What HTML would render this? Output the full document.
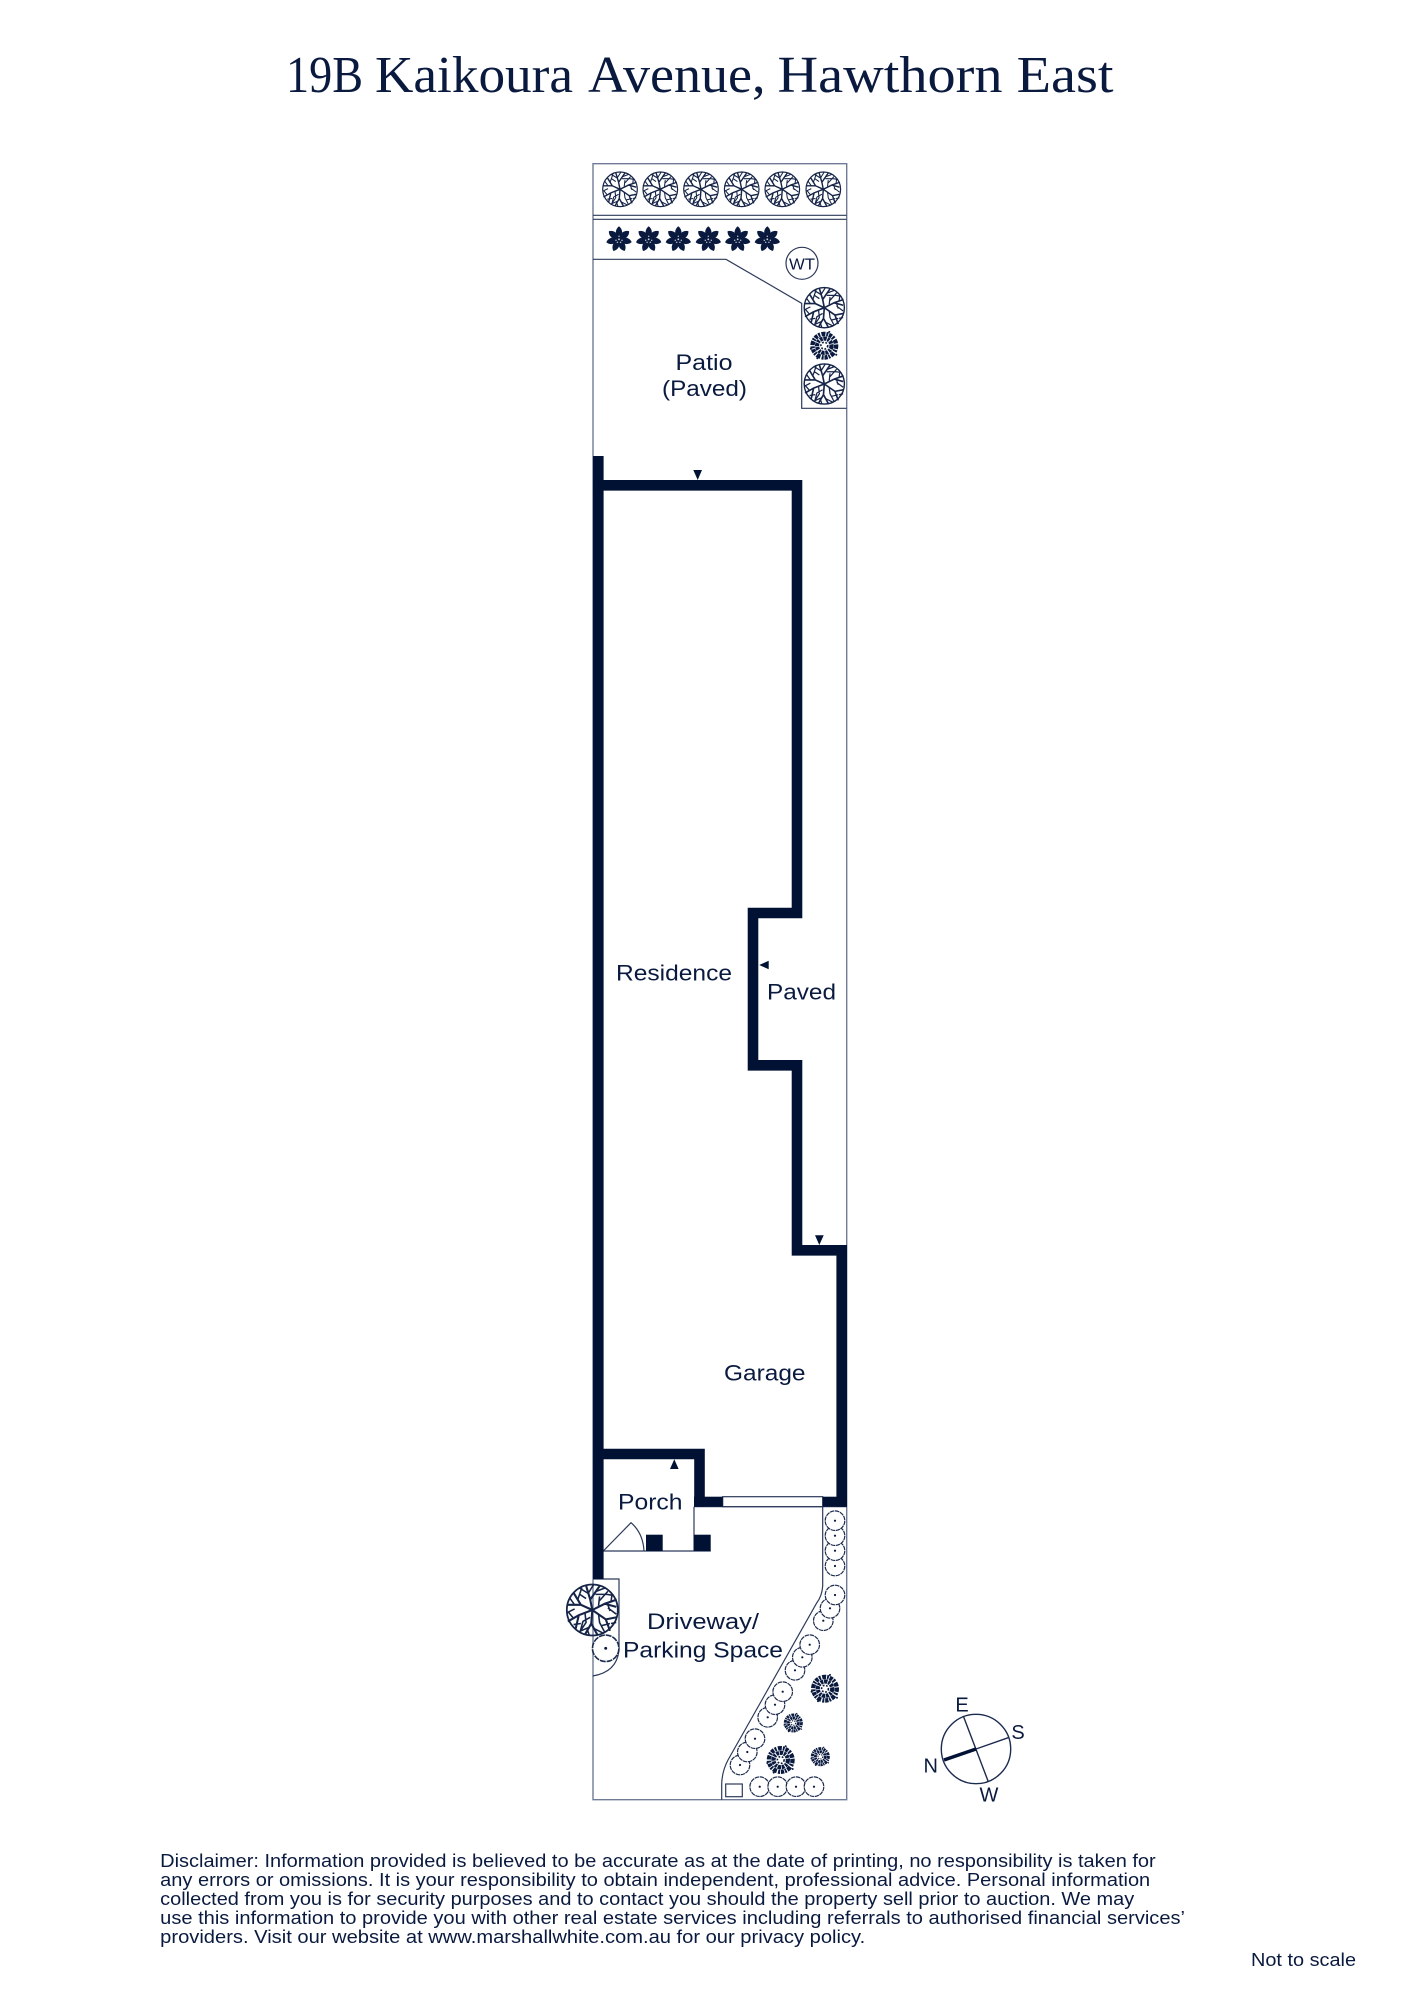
<!DOCTYPE html>
<html><head><meta charset="utf-8"><title>19B Kaikoura Avenue, Hawthorn East</title>
<style>html,body{margin:0;padding:0;background:#fff;width:1414px;height:2000px;overflow:hidden}svg{display:block}
text{font-family:"Liberation Sans",sans-serif;fill:#0a1a3f}</style></head><body>
<svg width="1414" height="2000" viewBox="0 0 1414 2000" xmlns="http://www.w3.org/2000/svg">
<defs>
<g id="tree" fill="none" stroke="#152447">
<circle r="49" stroke-width="3.4"/>
<g stroke-width="4"><path d="M0 0L-4 -20L-12 -47M-4 -20L14 -46M0 0L24 -12L47 -20M24 -12L46 -6M0 0L26 18L34 40M26 18L47 14M0 0L-2 26L-14 47M-2 26L10 48M0 0L-26 10L-47 22M-26 10L-32 36M0 0L-22 -10L-48 -10M-22 -10L-36 -33"/></g>
<g stroke-width="3"><path d="M-8 -32L-26 -43M-8 -32L2 -48M8 -36L26 -43M6 -30L28 -30L41 -28M36 -16L38 -30M14 -18L30 -36M30 -4L46 8M34 2L30 -10M12 8L14 24L24 43M36 26L46 24M18 30L34 26M-8 34L-26 42M-10 36L-6 48M4 36L22 45M-4 14L-18 22L-24 44M-36 16L-46 4M-14 6L-12 24L-24 42M-36 28L-22 26M-34 -10L-44 -24M-28 -20L-20 -43M-34 -2L-48 5M-12 -22L-24 -30M12 -8L14 -26"/></g>
</g>
<g id="flower" fill="#0a1a3f">
<path d="M0 -13C4 -10 3.8 -5 1.6 -2H-1.6C-3.8 -5 -4 -10 0 -13Z"/>
<path d="M0 -13C4 -10 3.8 -5 1.6 -2H-1.6C-3.8 -5 -4 -10 0 -13Z" transform="rotate(51.4)"/>
<path d="M0 -13C4 -10 3.8 -5 1.6 -2H-1.6C-3.8 -5 -4 -10 0 -13Z" transform="rotate(102.8)"/>
<path d="M0 -13C4 -10 3.8 -5 1.6 -2H-1.6C-3.8 -5 -4 -10 0 -13Z" transform="rotate(154.2)"/>
<path d="M0 -13C4 -10 3.8 -5 1.6 -2H-1.6C-3.8 -5 -4 -10 0 -13Z" transform="rotate(205.7)"/>
<path d="M0 -13C4 -10 3.8 -5 1.6 -2H-1.6C-3.8 -5 -4 -10 0 -13Z" transform="rotate(257.1)"/>
<path d="M0 -13C4 -10 3.8 -5 1.6 -2H-1.6C-3.8 -5 -4 -10 0 -13Z" transform="rotate(308.6)"/>
<circle r="5"/>
<g fill="#fff" opacity=".8"><circle r=".9"/><circle cx="3" cy="1" r=".7"/><circle cx="-3" cy="1" r=".7"/><circle cx="0" cy="-3" r=".7"/><circle cx="1.6" cy="3" r=".7"/><circle cx="-1.6" cy="3" r=".7"/></g>
</g>
<g id="shrub" fill="none" stroke="#0a1a3f">
<circle r="11.8" stroke-width="4.4" stroke-dasharray="3.2 .9 2 1.3 4 1 1.8 .8"/>
<circle r="7.2" stroke-width="4.2" stroke-dasharray="3.4 .8 2.2 1 2.8 .7"/>
<circle r="3.4" stroke-width="1.6" stroke-dasharray="1.8 1.6"/>
<g fill="#0a1a3f" stroke="none"><circle cx="-13.4" cy="3" r="1"/><circle cx="12" cy="9" r="1"/><circle cx="5" cy="-13.8" r="1"/><circle cx="-7" cy="12.6" r="1"/></g>
</g>
<g id="bush"><circle r="9.8" fill="#fff" stroke="#1c2b4e" stroke-width="1.2" stroke-dasharray="4.4 .7"/><circle r="1.1" fill="#0a1a3f"/></g>
</defs>

<g font-size="52">
<text x="286" y="92" textLength="77" lengthAdjust="spacingAndGlyphs" style="font-family:'Liberation Serif',serif">19B</text>
<text x="375" y="92" textLength="198" lengthAdjust="spacingAndGlyphs" style="font-family:'Liberation Serif',serif">Kaikoura</text>
<text x="588" y="92" textLength="177.5" lengthAdjust="spacingAndGlyphs" style="font-family:'Liberation Serif',serif">Avenue,</text>
<text x="777.5" y="92" textLength="336" lengthAdjust="spacingAndGlyphs" style="font-family:'Liberation Serif',serif">Hawthorn East</text>
</g>

<!-- lot boundary -->
<path d="M593 163.7H846.7V1799.7H593Z" fill="none" stroke="#6f7b96" stroke-width="1.4"/>
<g fill="none" stroke="#2c3a5a" stroke-width="1.2">
<path d="M593 215.3H846.7M593 219.3H846.7"/>
<path d="M593 259.3H726L801.7 303.3V408.3H846.7"/>
<circle cx="802" cy="263.3" r="16"/>
<!-- porch -->
<path d="M694 1506.7V1551M603 1551H710.7"/>
<path d="M603.3 1551L631 1522.7Q643 1533 644 1551"/>
<path d="M694 1506.7H846.7"/>
<!-- window -->
<rect x="722.7" y="1496.7" width="100" height="10"/>
<!-- garden right -->
<path d="M822.7 1506.7V1586Q822 1596 816.7 1603L728 1760Q721.7 1772 721.7 1785V1799.7"/>
<rect x="725.7" y="1784" width="16.6" height="12.7"/>
<!-- small bed -->
<path d="M593 1579H619V1650Q617 1672 592.7 1676"/>
</g>
<text x="802" y="269.5" font-size="16" text-anchor="middle" textLength="26" lengthAdjust="spacingAndGlyphs">WT</text>

<!-- walls -->
<g fill="none" stroke="#011133" stroke-width="10.6" stroke-linejoin="miter">
<path d="M598.3 456V1579"/>
<path d="M598.3 485.3H797V913H753V1065.3H797V1250.3H841.7V1506.7"/>
<path d="M598.3 1454H699.5V1506.7"/>
</g>
<g fill="#011133">
<rect x="694" y="1496.7" width="28.7" height="10"/>
<rect x="822.7" y="1496.7" width="24" height="10"/>
<rect x="646" y="1534.7" width="16.7" height="16.3"/>
<rect x="694" y="1534.7" width="16.7" height="16.3"/>
<!-- door arrows -->
<path d="M693.3 470H702L697.7 480Z"/>
<path d="M768.7 960.7V969.3L759.3 965Z"/>
<path d="M815 1235.3H823.7L819.3 1245Z"/>
<path d="M674.3 1459.3L678.6 1469H670Z"/>
</g>

<!-- trees top -->
<g transform="translate(620 189.3) scale(.353)"><use href="#tree"/></g>
<g transform="translate(660.3 189.3) scale(.353)"><use href="#tree"/></g>
<g transform="translate(701 189.3) scale(.353)"><use href="#tree"/></g>
<g transform="translate(741.7 189.3) scale(.353)"><use href="#tree"/></g>
<g transform="translate(782.3 189.3) scale(.353)"><use href="#tree"/></g>
<g transform="translate(823.3 189.3) scale(.353)"><use href="#tree"/></g>
<g transform="translate(824.3 307.7) scale(.41)"><use href="#tree"/></g>
<g transform="translate(824.3 384) scale(.41)"><use href="#tree"/></g>
<g transform="translate(592.3 1610) scale(.52)"><use href="#tree"/></g>

<!-- flowers -->
<use href="#flower" x="619" y="239.3"/><use href="#flower" x="648.7" y="239.3"/><use href="#flower" x="678.3" y="239.3"/><use href="#flower" x="708.3" y="239.3"/><use href="#flower" x="737.7" y="239.3"/><use href="#flower" x="767.3" y="239.3"/>

<!-- shrubs -->
<use href="#shrub" transform="translate(824.3 345.7)"/>
<use href="#shrub" transform="translate(825 1688.7)"/>
<use href="#shrub" transform="translate(793.3 1723) scale(.68)"/>
<use href="#shrub" transform="translate(780.7 1760)"/>
<use href="#shrub" transform="translate(820.3 1756.7) scale(.68)"/>

<!-- bushes -->
<use href="#bush" x="835" y="1566"/><use href="#bush" x="835" y="1550.7"/><use href="#bush" x="835" y="1535.7"/><use href="#bush" x="835" y="1520.7"/>
<use href="#bush" x="823.3" y="1620.7"/><use href="#bush" x="830" y="1608.3"/><use href="#bush" x="835" y="1595"/>
<use href="#bush" x="795" y="1670.3"/><use href="#bush" x="802.3" y="1657.3"/><use href="#bush" x="809.7" y="1644.7"/>
<use href="#bush" x="767.7" y="1717.3"/><use href="#bush" x="775" y="1704.7"/><use href="#bush" x="782.7" y="1691.7"/>
<use href="#bush" x="740" y="1765"/><use href="#bush" x="747.3" y="1752"/><use href="#bush" x="755" y="1738.7"/>
<use href="#bush" x="759.7" y="1786.7"/><use href="#bush" x="777.7" y="1786.7"/><use href="#bush" x="796" y="1786.7"/><use href="#bush" x="814" y="1786.7"/>
<g transform="translate(605.7 1648.3) scale(1.35)"><use href="#bush"/></g>

<!-- labels -->
<g font-size="22">
<text x="675.5" y="370" textLength="57" lengthAdjust="spacingAndGlyphs">Patio</text>
<text x="662" y="396" textLength="85" lengthAdjust="spacingAndGlyphs">(Paved)</text>
<text x="616" y="980.5" textLength="116" lengthAdjust="spacingAndGlyphs">Residence</text>
<text x="767" y="999.5" textLength="69" lengthAdjust="spacingAndGlyphs">Paved</text>
<text x="724" y="1380.5" textLength="81.5" lengthAdjust="spacingAndGlyphs">Garage</text>
<text x="618" y="1509.5" textLength="64.5" lengthAdjust="spacingAndGlyphs">Porch</text>
<text x="647" y="1629" textLength="112" lengthAdjust="spacingAndGlyphs">Driveway/</text>
<text x="623" y="1657.5" textLength="160" lengthAdjust="spacingAndGlyphs">Parking Space</text>
</g>

<!-- compass -->
<g fill="none" stroke="#1c2b4e" stroke-width="1.4">
<circle cx="976" cy="1749" r="34.7"/>
<path d="M963.3 1716L988.3 1781.7M976 1749L1009.3 1737.3"/>
<path d="M976 1749L944 1760" stroke="#011133" stroke-width="3.4"/>
</g>
<g font-size="20" text-anchor="middle">
<text x="962" y="1711.7">E</text><text x="1018" y="1739">S</text><text x="930.7" y="1772.7">N</text><text x="989" y="1801.7">W</text>
</g>

<!-- disclaimer -->
<g font-size="18">
<text x="160.2" y="1867" textLength="995.5" lengthAdjust="spacingAndGlyphs">Disclaimer: Information provided is believed to be accurate as at the date of printing, no responsibility is taken for</text>
<text x="160.2" y="1886" textLength="990" lengthAdjust="spacingAndGlyphs">any errors or omissions. It is your responsibility to obtain independent, professional advice. Personal information</text>
<text x="160.2" y="1905" textLength="974" lengthAdjust="spacingAndGlyphs">collected from you is for security purposes and to contact you should the property sell prior to auction. We may</text>
<text x="160.2" y="1924" textLength="1024.8" lengthAdjust="spacingAndGlyphs">use this information to provide you with other real estate services including referrals to authorised financial services’</text>
<text x="160.2" y="1943" textLength="705" lengthAdjust="spacingAndGlyphs">providers. Visit our website at www.marshallwhite.com.au for our privacy policy.</text>
<text x="1251" y="1966" textLength="105" lengthAdjust="spacingAndGlyphs">Not to scale</text>
</g>
</svg>
</body></html>
